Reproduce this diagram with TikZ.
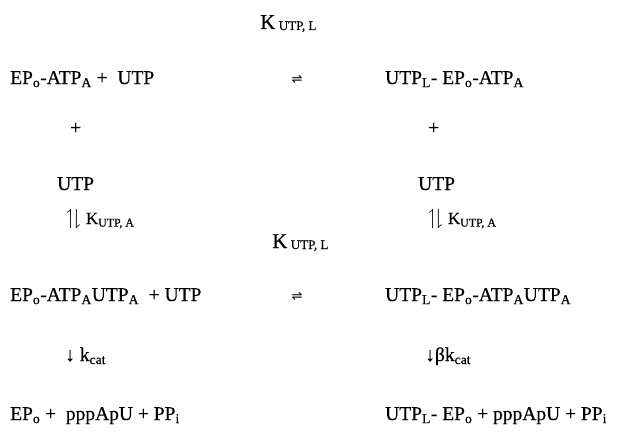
\documentclass[tikz,border=0pt]{standalone}
\usepackage{amssymb}
\usepackage{fontspec}
\setmainfont{Liberation Serif}[FakeBold=0.4]
\newfontfamily\symfont{DejaVu Sans}
\newcommand{\lo}[1]{\textsubscript{#1}}
\newcommand{\harp}{{\fontsize{22}{24}\selectfont$\upharpoonleft\!\downharpoonright$}}
\tikzset{
  txt/.style={anchor=base west, inner sep=0pt, font=\fontsize{19.5}{22}\selectfont},
  konst/.style={anchor=base west, inner sep=0pt, font=\fontsize{21}{24}\selectfont},
  eqsign/.style={anchor=center, inner sep=0pt, font=\symfont\fontsize{13}{15}\selectfont},
}
\begin{document}
\begin{tikzpicture}[x=1pt,y=-1pt]
\useasboundingbox[fill=white] (0,0) rectangle (623,436);
% upper equilibrium constant
\node[konst] (k1) at (260,29) {K\,\raisebox{-1pt}{\fontsize{13}{15}\selectfont UTP, L}};
% first row
\node[txt] (r1l) at (10,84) {EP\lo{o}-ATP\lo{A} +\ \ UTP};
\node[eqsign] (eq1) at (297,79) {⇌};
\node[txt] (r1r) at (385,84) {UTP\lo{L}- EP\lo{o}-ATP\lo{A}};
% plus signs
\node[txt] (p1) at (70,134) {+};
\node[txt] (p2) at (428,134) {+};
% second substrate
\node[txt] (u1) at (57,190) {UTP};
\node[txt] (u2) at (418,190) {UTP};
% binding constants
\node[txt] (a1) at (66,224) {\harp\ \fontsize{17}{19}\selectfont K\lo{UTP, A}};
\node[txt] (a2) at (428,224) {\harp\ \fontsize{17}{19}\selectfont K\lo{UTP, A}};
% lower equilibrium constant
\node[konst] (k2) at (272,248) {K\,\raisebox{-1pt}{\fontsize{13}{15}\selectfont UTP, L}};
% third row
\node[txt] (r3l) at (10,301) {EP\lo{o}-ATP\lo{A}UTP\lo{A}\ \ +\ UTP};
\node[eqsign] (eq2) at (297,296) {⇌};
\node[txt] (r3r) at (385,301) {UTP\lo{L}- EP\lo{o}-ATP\lo{A}UTP\lo{A}};
% catalytic steps
\node[txt] (c1) at (65,361) {↓ k\lo{cat}};
\node[txt] (c2) at (425,361) {↓βk\lo{cat}};
% products
\node[txt] (b1) at (10,420) {EP\lo{o} +\ \ pppApU + PP\lo{i}};
\node[txt] (b2) at (385,420) {UTP\lo{L}- EP\lo{o} + pppApU + PP\lo{i}};
\end{tikzpicture}
\end{document}
